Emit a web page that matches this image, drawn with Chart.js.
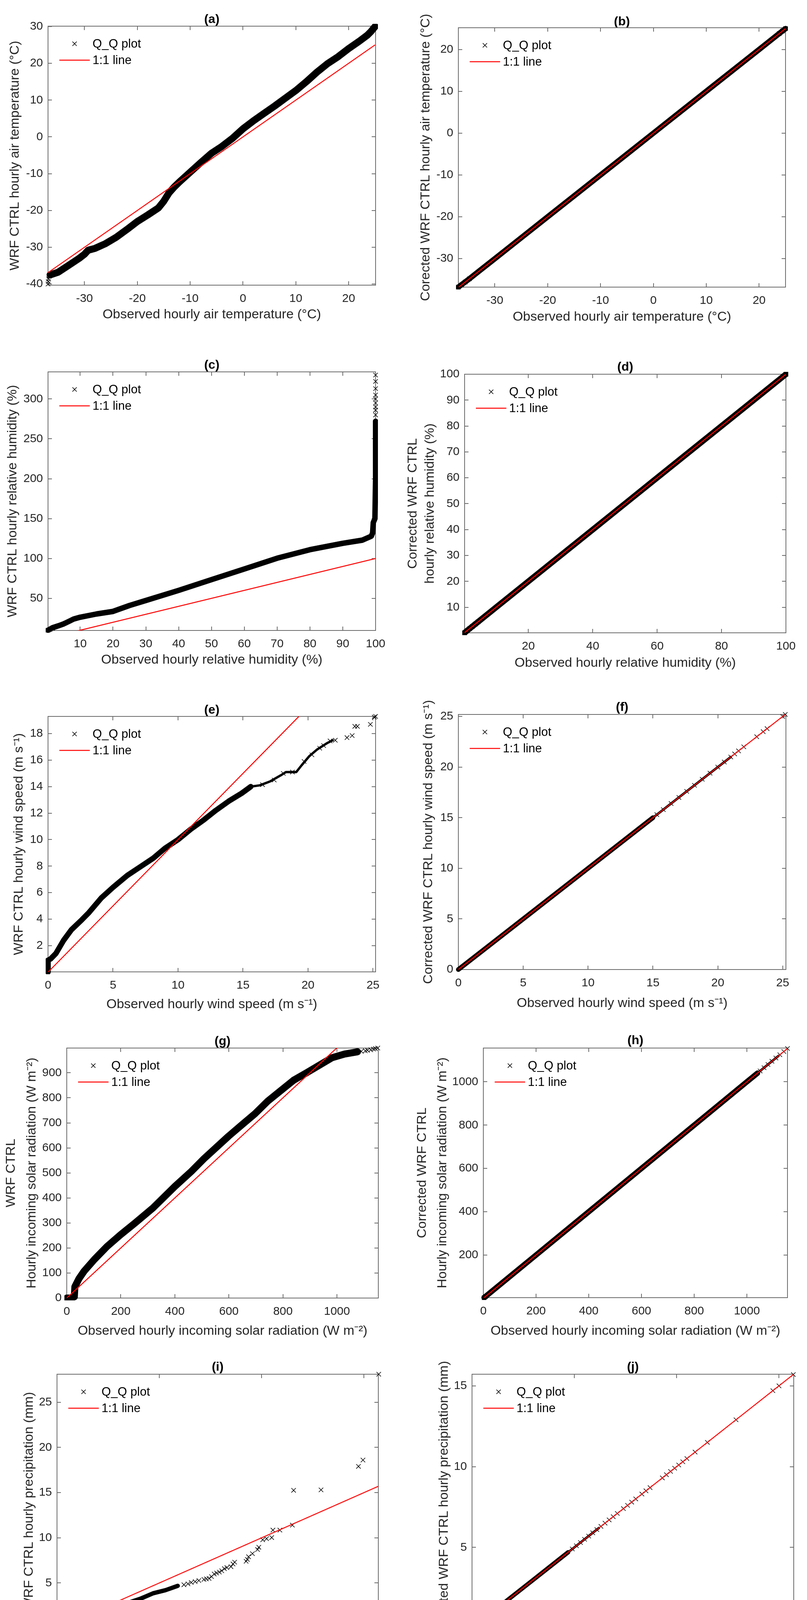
<!DOCTYPE html>
<html>
<head>
<meta charset="utf-8">
<title>Q-Q plots</title>
<script src="https://cdn.jsdelivr.net/npm/chart.js@4.4.1/dist/chart.umd.min.js"></script>
<style>
html, body { margin: 0; padding: 0; background: #fff; }
#page { position: relative; width: 2067px; height: 4279px; overflow: hidden; }
#page canvas { position: absolute; }
</style>
</head>
<body>
<div id="page"></div>
<script>
// ---- values ----

// (a) air temperature, WRF CTRL vs observed
var tempObs = [-36.5, -35, -33, -31, -30, -29.3, -28, -26, -24, -22, -20, -18, -16, -15, -14, -13, -12, -10, -8, -6, -4, -2, 0, 2, 4, 6, 8, 10, 12, 14, 16, 18, 20, 22, 23.5, 24.2, 25];
var tempWrf = [-37.5, -36.8, -34.9, -33.0, -31.9, -30.8, -30.3, -29.0, -27.3, -25.2, -23.0, -21.2, -19.3, -17.5, -15.2, -13.6, -12.2, -9.6, -7.0, -4.5, -2.6, -0.4, 2.2, 4.4, 6.4, 8.4, 10.5, 12.6, 15.0, 17.6, 19.9, 21.8, 24.0, 26.0, 27.6, 28.6, 30];
var tempMarkObs = [-36.9, -36.85, -36.8, -36.7, 24.6, 25];
var tempMarkWrf = [-40, -39.3, -38.6, -37.9, 29.5, 30];
var tempLine = [-36.9, 25];
var tempXTicks = [-30, -20, -10, 0, 10, 20];
var tempYTicks = [-40, -30, -20, -10, 0, 10, 20, 30];

// (b) corrected air temperature
var corrTempObs = [-36.9, -35, -33, -30, -25, -20, -15, -10, -5, 0, 5, 10, 15, 20, 22, 24, 25];
var corrTempWrf = [-36.8, -35, -33, -30, -25, -20, -15, -10, -5, 0, 5, 10, 15, 20, 22, 24, 25];
var corrTempMarkObs = [-36.9, -36.3, -35.6, -34.8, 23.8, 24.4, 25];
var corrTempMarkWrf = [-36.8, -36.3, -35.6, -34.8, 23.8, 24.4, 25];
var corrTempLine = [-36.9, 25];
var corrTempYTicks = [-30, -20, -10, 0, 10, 20];

// (c) relative humidity
var humObs = [0.2, 1.5, 3.4, 5, 6.5, 8, 10, 15, 20, 25, 30, 40, 50, 60, 70, 80, 90, 96, 98.7, 99.1, 99.3, 99.8, 100, 100];
var humWrf = [10, 13, 15.6, 18, 21, 24, 26.3, 30.4, 33.6, 41, 47.3, 60, 73.4, 86.8, 100.3, 111, 119, 123, 128, 132, 145, 150, 200, 272];
var humMarkObs = [0.2, 0.8, 1.6, 100, 100, 100, 100, 100, 100, 100, 100, 100];
var humMarkWrf = [10, 11, 12.5, 280, 286, 290, 295, 300, 305, 313, 322, 330];
var humLine = [0.2, 100];
var humXTicks = [10, 20, 30, 40, 50, 60, 70, 80, 90, 100];
var humYTicks = [50, 100, 150, 200, 250, 300];

// (d) corrected relative humidity
var corrHumObs = [0.2, 1, 2, 3, 5, 10, 20, 30, 40, 50, 60, 70, 80, 90, 100];
var corrHumWrf = [0.15, 1, 2, 3, 5, 10, 20, 30, 40, 50, 60, 70, 80, 90, 100];
var corrHumMarkObs = [0.2, 0.9, 1.7, 2.6, 3.5, 4.4, 100];
var corrHumMarkWrf = [0.15, 0.9, 1.7, 2.6, 3.5, 4.4, 100];
var corrHumLine = [0.2, 100];
var corrHumXTicks = [20, 40, 60, 80, 100];
var corrHumYTicks = [10, 20, 30, 40, 50, 60, 70, 80, 90, 100];

// (e) wind speed
var windObs = [0, 0, 0.2, 0.6, 1.2, 1.8, 2.6, 3.15, 4.1, 5, 6.1, 7.1, 8.1, 9, 10, 11, 12, 12.9, 13.9, 14.9, 15.6];
var windWrf = [0, 0.9, 1.0, 1.4, 2.4, 3.2, 3.95, 4.5, 5.6, 6.4, 7.3, 7.95, 8.6, 9.35, 10, 10.8, 11.5, 12.2, 12.9, 13.5, 14];
var windTailObs = [15.6, 16.3, 17.1, 17.9, 18.3, 19.1, 19.5, 20.1, 20.7, 21.5, 21.9];
var windTailWrf = [14, 14.1, 14.4, 14.85, 15.1, 15.1, 15.6, 16.3, 16.8, 17.3, 17.5];
var windMarkObs = [16.5, 17.4, 18.1, 18.8, 19.7, 20.3, 20.9, 21.2, 21.7, 22.1, 23.0, 23.4, 23.6, 23.8, 24.8, 25.1, 25.2];
var windMarkWrf = [14.15, 14.5, 15.0, 15.1, 15.9, 16.4, 16.9, 17.1, 17.45, 17.5, 17.7, 17.85, 18.55, 18.55, 18.7, 19.25, 19.3];
var windLine = [0, 19.3];
var windXTicks = [0, 5, 10, 15, 20, 25];
var windYTicks = [2, 4, 6, 8, 10, 12, 14, 16, 18];

// (f) corrected wind speed
var corrWindObs = [0, 2, 5, 10, 15];
var corrWindWrf = [0, 2, 5, 10, 15];
var corrWindTailObs = [15, 17, 19, 21];
var corrWindTailWrf = [15, 17, 19, 21];
var corrWindMarkObs = [15.3, 15.8, 16.4, 17, 17.6, 18.2, 18.8, 19.4, 20, 20.5, 21, 21.3, 21.6, 22, 23, 23.5, 23.8, 25, 25.2];
var corrWindMarkWrf = [15.3, 15.8, 16.4, 17, 17.6, 18.2, 18.8, 19.4, 20, 20.5, 21, 21.3, 21.6, 22, 23, 23.5, 23.8, 25, 25.2];
var corrWindLine = [0, 25.2];
var corrWindTicks = [0, 5, 10, 15, 20, 25];

// (g) incoming solar radiation
var solarObs = [0, 15, 28, 30, 45, 64, 102, 149, 199, 253, 319, 400, 461, 508, 599, 650, 697, 745, 800, 839, 887, 934, 981, 1028, 1076];
var solarWrf = [0, 0, 5, 45, 77, 107, 154, 206, 253, 300, 360, 446, 506, 557, 647, 694, 737, 788, 836, 870, 900, 930, 960, 975, 984];
var solarMarkObs = [1090, 1105, 1113, 1125, 1135, 1142, 1151];
var solarMarkWrf = [986, 988, 990, 992, 995, 997, 999];
var solarLine = [0, 1000];
var solarXTicks = [0, 200, 400, 600, 800, 1000];
var solarYTicks = [0, 100, 200, 300, 400, 500, 600, 700, 800, 900];

// (h) corrected incoming solar radiation
var corrSolarObs = [3, 100, 200, 400, 600, 800, 1000, 1040];
var corrSolarWrf = [3, 100, 200, 400, 600, 800, 1000, 1040];
var corrSolarTailObs = [1040, 1080, 1120];
var corrSolarTailWrf = [1040, 1080, 1120];
var corrSolarMarkObs = [3, 8, 1050, 1065, 1080, 1095, 1110, 1125, 1140, 1154];
var corrSolarMarkWrf = [3, 8, 1050, 1065, 1080, 1095, 1110, 1125, 1140, 1154];
var corrSolarLine = [0, 1154];
var corrSolarYTicks = [200, 400, 600, 800, 1000];

// (i) precipitation
var precipObs = [0, 0.5, 0.95, 1.6, 2.2, 2.8, 3.44, 4.07, 4.69, 5.3, 5.9];
var precipWrf = [0, 0.15, 0.52, 1.05, 1.6, 2.2, 2.78, 3.25, 3.85, 4.2, 4.68];
var precipMarkObs = [6.2, 6.4, 6.56, 6.75, 6.93, 7.18, 7.3, 7.43, 7.55, 7.68, 7.8, 7.93, 8.05, 8.18, 8.3, 8.5, 8.6, 8.68, 9.24, 9.3, 9.36, 9.55, 9.8, 9.86, 10.05, 10.24, 10.49, 10.55, 10.89, 11.5, 11.56, 12.9, 14.73, 14.95, 15.72];
var precipMarkWrf = [4.8, 4.9, 5.05, 5.15, 5.27, 5.39, 5.45, 5.5, 5.7, 5.99, 6.1, 6.2, 6.35, 6.58, 6.7, 6.8, 7.1, 7.3, 7.4, 7.6, 7.9, 8.24, 8.7, 8.95, 9.78, 9.9, 10.02, 10.85, 10.85, 11.4, 15.25, 15.3, 17.9, 18.6, 28.1];
var precipLine = [0, 15.7];
var precipXTicks = [0, 5, 10, 15];
var precipYTicks = [0, 5, 10, 15, 20, 25];

// (j) corrected precipitation
var corrPrecipObs = [0, 1, 2, 3, 4, 4.7];
var corrPrecipWrf = [0, 1, 2, 3, 4, 4.7];
var corrPrecipTailObs = [4.8, 5.2, 5.6, 6.2];
var corrPrecipTailWrf = [4.8, 5.2, 5.6, 6.2];
var corrPrecipMarkObs = [4.9, 5.1, 5.3, 5.5, 5.7, 5.9, 6.1, 6.3, 6.5, 6.7, 6.9, 7.1, 7.4, 7.6, 7.8, 8.0, 8.3, 8.5, 8.7, 9.3, 9.5, 9.7, 9.9, 10.1, 10.3, 10.5, 10.9, 11.5, 12.9, 14.7, 15.0, 15.7];
var corrPrecipMarkWrf = [4.9, 5.1, 5.3, 5.5, 5.7, 5.9, 6.1, 6.3, 6.5, 6.7, 6.9, 7.1, 7.4, 7.6, 7.8, 8.0, 8.3, 8.5, 8.7, 9.3, 9.5, 9.7, 9.9, 10.1, 10.3, 10.5, 10.9, 11.5, 12.9, 14.7, 15.0, 15.7];
var corrPrecipLine = [0, 15.72];
var corrPrecipTicks = [0, 5, 10, 15];

var legendLabels = ['Q_Q plot', '1:1 line'];

// ---- styling ----
var family = "'Liberation Sans', Arial, Helvetica, sans-serif";
var axisGray = '#6b6b6b';
var labelGray = '#262626';
Chart.defaults.font.family = family;
Chart.defaults.color = labelGray;

function pts(xs, ys) {
    return xs.map(function (x, i) { return {x: x, y: ys[i]}; });
}

// cells: canvas position on the page; L/T/R/B: plot box; *Y / yTitleX: text centres
var panels = [
    {title: '(a)', cx: 0, cy: 0, cw: 1033, ch: 860, L: 123, T: 67, R: 962, B: 730, titleY: 50,
     yTitle: 'WRF CTRL hourly air temperature (°C)', yTitleX: 39,
     xTitle: 'Observed hourly air temperature (°C)', xTitleY: 806,
     xMin: -36.9, xMax: 25.1, yMin: -40.3, yMax: 30.1, xTicks: tempXTicks, yTicks: tempYTicks, line: tempLine,
     series: [{xs: tempObs, ys: tempWrf, w: 18}, {xs: tempMarkObs, ys: tempMarkWrf}]},
    {title: '(b)', cx: 1033, cy: 0, cw: 1034, ch: 860, L: 1174, T: 71, R: 2012, B: 735, titleY: 56,
     yTitle: 'Corected WRF CTRL hourly air temperature (°C)', yTitleX: 1091,
     xTitle: 'Observed hourly air temperature (°C)', xTitleY: 812,
     xMin: -36.9, xMax: 25, yMin: -36.8, yMax: 25.2, xTicks: tempXTicks, yTicks: corrTempYTicks, line: corrTempLine,
     series: [{xs: corrTempObs, ys: corrTempWrf, w: 14}, {xs: corrTempMarkObs, ys: corrTempMarkWrf}]},
    {title: '(c)', cx: 0, cy: 860, cw: 1033, ch: 870, L: 123, T: 952, R: 962, B: 1614, titleY: 935,
     yTitle: 'WRF CTRL hourly relative humidity (%)', yTitleX: 33,
     xTitle: 'Observed hourly relative humidity (%)', xTitleY: 1690,
     xMin: 0.2, xMax: 100, yMin: 9.7, yMax: 334, xTicks: humXTicks, yTicks: humYTicks, line: humLine,
     series: [{xs: humObs, ys: humWrf, w: 14}, {xs: humMarkObs, ys: humMarkWrf}]},
    {title: '(d)', cx: 1033, cy: 860, cw: 1034, ch: 870, L: 1190, T: 958, R: 2013, B: 1620, titleY: 940,
     yTitle: ['Corrected WRF CTRL', 'hourly relative humidity (%)'], yTitleX: 1058, yGap: 44,
     xTitle: 'Observed hourly relative humidity (%)', xTitleY: 1698,
     xMin: 0.2, xMax: 100, yMin: 0.15, yMax: 100, xTicks: corrHumXTicks, yTicks: corrHumYTicks, line: corrHumLine,
     series: [{xs: corrHumObs, ys: corrHumWrf, w: 15}, {xs: corrHumMarkObs, ys: corrHumMarkWrf}]},
    {title: '(e)', cx: 0, cy: 1730, cw: 1033, ch: 870, L: 123, T: 1834, R: 962, B: 2488, titleY: 1818,
     yTitle: 'WRF CTRL hourly wind speed (m s⁻¹)', yTitleX: 49,
     xTitle: 'Observed hourly wind speed (m s⁻¹)', xTitleY: 2572,
     xMin: 0, xMax: 25.2, yMin: 0.02, yMax: 19.3, xTicks: windXTicks, yTicks: windYTicks, line: windLine,
     series: [{xs: windObs, ys: windWrf, w: 14}, {xs: windTailObs, ys: windTailWrf, w: 6}, {xs: windMarkObs, ys: windMarkWrf}]},
    {title: '(f)', cx: 1033, cy: 1730, cw: 1034, ch: 870, L: 1174, T: 1829, R: 2013, B: 2482, titleY: 1811,
     yTitle: 'Corrected WRF CTRL hourly wind speed (m s⁻¹)', yTitleX: 1098,
     xTitle: 'Observed hourly wind speed (m s⁻¹)', xTitleY: 2569,
     xMin: 0, xMax: 25.25, yMin: 0, yMax: 25.2, xTicks: corrWindTicks, yTicks: corrWindTicks, line: corrWindLine,
     series: [{xs: corrWindObs, ys: corrWindWrf, w: 12}, {xs: corrWindTailObs, ys: corrWindTailWrf, w: 6}, {xs: corrWindMarkObs, ys: corrWindMarkWrf}]},
    {title: '(g)', cx: 0, cy: 2600, cw: 1033, ch: 845, L: 171, T: 2683, R: 969, B: 3323, titleY: 2666,
     yTitle: ['WRF CTRL', 'Hourly incoming solar radiation (W m⁻²)'], yTitleX: 29, yGap: 53,
     xTitle: 'Observed hourly incoming solar radiation (W m⁻²)', xTitleY: 3408,
     xMin: 0, xMax: 1153, yMin: 0, yMax: 999, xTicks: solarXTicks, yTicks: solarYTicks, line: solarLine,
     series: [{xs: solarObs, ys: solarWrf, w: 18}, {xs: solarMarkObs, ys: solarMarkWrf}]},
    {title: '(h)', cx: 1033, cy: 2600, cw: 1034, ch: 845, L: 1238, T: 2683, R: 2017, B: 3322, titleY: 2664,
     yTitle: ['Corrected WRF CTRL', 'Hourly incoming solar radiation (W m⁻²)'], yTitleX: 1082, yGap: 52,
     xTitle: 'Observed hourly incoming solar radiation (W m⁻²)', xTitleY: 3408,
     xMin: 0, xMax: 1154, yMin: 3, yMax: 1156, xTicks: solarXTicks, yTicks: corrSolarYTicks, line: corrSolarLine,
     series: [{xs: corrSolarObs, ys: corrSolarWrf, w: 14}, {xs: corrSolarTailObs, ys: corrSolarTailWrf, w: 6}, {xs: corrSolarMarkObs, ys: corrSolarMarkWrf}]},
    {title: '(i)', cx: 0, cy: 3445, cw: 1033, ch: 834, L: 146, T: 3518, R: 969, B: 4168, titleY: 3500,
     yTitle: 'WRF CTRL hourly precipitation (mm)', yTitleX: 75,
     xTitle: 'Observed hourly precipitation (mm)', xTitleY: 4244,
     xMin: 0, xMax: 15.7, yMin: 0, yMax: 28.1, xTicks: precipXTicks, yTicks: precipYTicks, line: precipLine,
     series: [{xs: precipObs, ys: precipWrf, w: 11}, {xs: precipMarkObs, ys: precipMarkWrf}]},
    {title: '(j)', cx: 1033, cy: 3445, cw: 1034, ch: 834, L: 1209, T: 3518, R: 2033, B: 4168, titleY: 3500,
     yTitle: 'Corrected WRF CTRL hourly precipitation (mm)', yTitleX: 1138,
     xTitle: 'Observed hourly precipitation (mm)', xTitleY: 4244,
     xMin: 0, xMax: 15.72, yMin: 0, yMax: 15.72, xTicks: corrPrecipTicks, yTicks: corrPrecipTicks, line: corrPrecipLine,
     series: [{xs: corrPrecipObs, ys: corrPrecipWrf, w: 11}, {xs: corrPrecipTailObs, ys: corrPrecipTailWrf, w: 6}, {xs: corrPrecipMarkObs, ys: corrPrecipMarkWrf}]}
];

// legend drawn inside the plot box, top left, no frame
var insideLegend = {
    id: 'insideLegend',
    afterDatasetsDraw: function (chart) {
        var a = chart.chartArea;
        var ctx = chart.ctx;
        var mx = a.left + 68, my = a.top + 45, d = 5.5;
        ctx.save();
        ctx.strokeStyle = '#000';
        ctx.lineWidth = 1.6;
        ctx.beginPath();
        ctx.moveTo(mx - d, my - d); ctx.lineTo(mx + d, my + d);
        ctx.moveTo(mx - d, my + d); ctx.lineTo(mx + d, my - d);
        ctx.stroke();
        ctx.strokeStyle = '#ff0000';
        ctx.lineWidth = 2.5;
        ctx.beginPath();
        ctx.moveTo(a.left + 29, a.top + 87);
        ctx.lineTo(a.left + 107, a.top + 87);
        ctx.stroke();
        ctx.fillStyle = '#000';
        ctx.font = '31px ' + family;
        ctx.textBaseline = 'middle';
        ctx.fillText(legendLabels[0], a.left + 114, a.top + 46);
        ctx.fillText(legendLabels[1], a.left + 114, a.top + 88);
        ctx.restore();
    }
};

function fixedTicks(vals) {
    return function (scale) {
        scale.ticks = vals.map(function (v) { return {value: v}; });
    };
}

function makeChart(p) {
    var canvas = document.createElement('canvas');
    canvas.width = p.cw;
    canvas.height = p.ch;
    canvas.style.left = p.cx + 'px';
    canvas.style.top = p.cy + 'px';
    canvas.style.width = p.cw + 'px';
    canvas.style.height = p.ch + 'px';
    document.getElementById('page').appendChild(canvas);

    var yLH = p.yGap ? p.yGap / 34 : 1.2;
    var edge = {display: true, color: axisGray, width: 2};
    var marks = {display: true, drawOnChartArea: false, drawTicks: true, tickLength: -10, color: axisGray, lineWidth: 2};
    var tickFont = {size: 30};
    var label = function (v) { return String(v); };

    var datasets = [{
        label: legendLabels[1],
        data: pts(p.line, p.line),
        showLine: true, borderColor: '#ff0000', borderWidth: 2.5, pointRadius: 0, order: 0
    }];
    p.series.forEach(function (s) {
        if (s.w) {
            datasets.push({
                label: legendLabels[0], data: pts(s.xs, s.ys), showLine: true,
                borderColor: '#000', borderWidth: s.w, pointRadius: 0,
                borderJoinStyle: 'round', borderCapStyle: 'round', clip: 6, order: 2
            });
        } else {
            datasets.push({
                label: legendLabels[0], data: pts(s.xs, s.ys), showLine: false,
                pointStyle: 'crossRot', pointRadius: 8, borderColor: '#000', backgroundColor: '#000',
                borderWidth: 1.5, clip: 14, order: 1
            });
        }
    });

    new Chart(canvas, {
        type: 'scatter',
        data: {datasets: datasets},
        options: {
            responsive: false,
            animation: false,
            devicePixelRatio: 1,
            events: [],
            layout: {padding: {left: 0, top: 0, bottom: 0, right: p.cx + p.cw - p.R}},
            plugins: {
                legend: {display: false},
                tooltip: {enabled: false},
                title: {
                    display: true, text: p.title, fullSize: false, color: '#000',
                    font: {size: 32, weight: 'bold', lineHeight: 0.6},
                    padding: {top: p.titleY - p.cy - 9.6, bottom: p.T - p.titleY - 9.6}
                }
            },
            scales: {
                x: {
                    type: 'linear', position: 'bottom', min: p.xMin, max: p.xMax,
                    afterBuildTicks: fixedTicks(p.xTicks),
                    afterFit: function (s) { s.height = p.cy + p.ch - p.B; },
                    grid: marks, border: edge,
                    ticks: {autoSkip: false, maxRotation: 0, padding: 27, color: labelGray, font: tickFont, callback: label},
                    title: {
                        display: true, text: p.xTitle, color: labelGray, font: {size: 34, lineHeight: 1},
                        padding: {top: 0, bottom: p.cy + p.ch - p.xTitleY - 17}
                    }
                },
                x2: {
                    type: 'linear', position: 'top', min: p.xMin, max: p.xMax,
                    afterBuildTicks: fixedTicks(p.xTicks),
                    afterFit: function (s) { s.height = 0; },
                    grid: marks, border: edge, ticks: {display: false}
                },
                y: {
                    type: 'linear', position: 'left', min: p.yMin, max: p.yMax,
                    afterBuildTicks: fixedTicks(p.yTicks),
                    afterFit: function (s) { s.width = p.L - p.cx; },
                    grid: marks, border: edge,
                    ticks: {autoSkip: false, padding: 23, color: labelGray, font: tickFont, callback: label},
                    title: {
                        display: true, text: p.yTitle, color: labelGray, font: {size: 34, lineHeight: yLH},
                        padding: {top: p.yTitleX - p.cx - 17 * yLH, bottom: 0}
                    }
                },
                y2: {
                    type: 'linear', position: 'right', min: p.yMin, max: p.yMax,
                    afterBuildTicks: fixedTicks(p.yTicks),
                    afterFit: function (s) { s.width = 0; },
                    grid: marks, border: edge, ticks: {display: false}
                }
            }
        },
        plugins: [insideLegend]
    });
}

panels.forEach(makeChart);
</script>
</body>
</html>
